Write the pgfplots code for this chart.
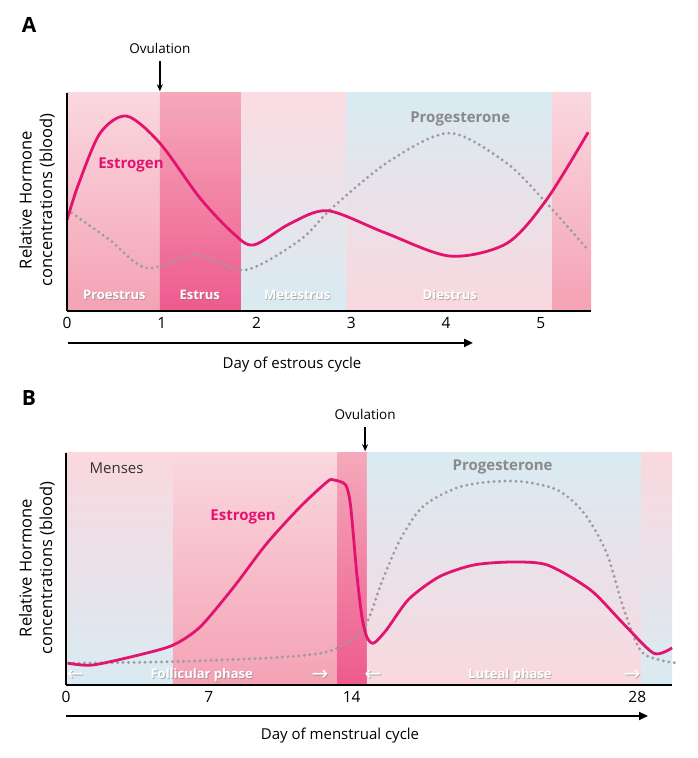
\documentclass[border=0pt]{standalone}
\usepackage{fontspec}
\setmainfont{Open Sans}
\newfontfamily\dejavu{DejaVu Sans}
\usepackage{pgfplots}
\pgfplotsset{compat=1.18}
\usetikzlibrary{arrows.meta}
\definecolor{estro}{HTML}{E2146F}
\definecolor{prog}{HTML}{9C9C9C}
\definecolor{progtxt}{HTML}{8A8A8A}
\definecolor{pinkL}{HTML}{FAD8DF}
\definecolor{pinkM}{HTML}{F4A2B4}
\definecolor{pinkE}{HTML}{F5A9BB}
\definecolor{pinkD}{HTML}{EE5A8E}
\definecolor{blueL}{HTML}{D9EBF2}
\newcommand{\fs}[1]{\fontsize{#1}{#1}\selectfont}
\newcommand{\shadowtext}[3]{%
  \node[text=black!55, opacity=0.5, font=\fs{13}\bfseries] at ([xshift=0.8pt,yshift=-0.8pt]#1) {#2};
  \node[text=white, font=\fs{13}\bfseries] at (#1) {#2};}
\newcommand{\shadowarrow}[2]{%
  \node[text=black!55, opacity=0.5, font=\dejavu\fs{20}] at ([xshift=0.8pt,yshift=-0.8pt]#1) {#2};
  \node[text=white, font=\dejavu\fs{20}] at (#1) {#2};}
\pgfplotsset{
  panel/.style={
    scale only axis, anchor=south west,
    ymin=0, ymax=100, ytick=\empty,
    axis x line*=bottom, axis y line*=left,
    axis line style={line width=2.6pt, black, -},
    major tick length=0pt,
    axis on top, clip=false,
    /pgf/number format/assume math mode=true,
    xticklabel style={font=\fs{15.5}, yshift=-3pt},
  },
  est/.style={estro, line width=2.8pt, smooth, no markers},
  pro/.style={prog, line width=3.2pt, smooth, no markers, line cap=round, dash pattern=on 0pt off 5.5pt},
}
\begin{document}
\begin{tikzpicture}
\useasboundingbox (0,0) rectangle (697pt,758pt);
% ---------- Panel A ----------
\node[font=\fs{21}\bfseries] at (29pt,733pt) {A};
\node[font=\fs{16.5}, align=center, rotate=90] at (37pt,558pt) {Relative Hormone\\[4pt]concentrations (blood)};
\begin{axis}[panel, at={(67pt,447pt)}, width=524pt, height=218pt,
  xmin=0, xmax=5.53, xtick={0,1,2,3,4,5}]
  \path[top color=pinkL, bottom color=pinkM] (axis cs:0,0) rectangle (axis cs:0.98,100);
  \path[top color=pinkE, bottom color=pinkD] (axis cs:0.98,0) rectangle (axis cs:1.84,100);
  \path[top color=pinkL!90!white, bottom color=blueL] (axis cs:1.84,0) rectangle (axis cs:2.95,100);
  \path[top color=blueL, bottom color=pinkL] (axis cs:2.95,0) rectangle (axis cs:5.12,100);
  \path[top color=pinkL, bottom color=pinkM] (axis cs:5.12,0) rectangle (axis cs:5.53,100);
  \addplot[pro] coordinates {(0.05,45) (0.45,32.6) (0.84,19.7) (1.37,25.7) (1.88,18.8) (2.46,32.6) (2.81,47.8) (3.41,69) (4.04,81.6) (4.64,67.8) (5.06,49.5) (5.5,28)};
  \addplot[est] coordinates {(0,41.7) (0.12,58) (0.35,81.6) (0.63,89.4) (0.98,77) (1.40,52) (1.75,35.8) (1.97,30.3) (2.35,40) (2.75,46) (3.35,36) (4.04,25.2) (4.64,31) (5.06,51) (5.5,82)};
  \shadowtext{axis cs:0.50,7.3}{Proestrus}{}
  \shadowtext{axis cs:1.40,7.3}{Estrus}{}
  \shadowtext{axis cs:2.43,7.3}{Metestrus}{}
  \shadowtext{axis cs:4.04,7.3}{Diestrus}{}
  \node[text=estro, font=\fs{15}\bfseries] at (axis cs:0.675,67) {Estrogen};
  \node[text=progtxt, font=\fs{15}\bfseries] at (axis cs:4.15,88) {Progesterone};
  \node[font=\fs{13.5}] at (axis cs:0.98,120.6) {Ovulation};
  \draw[line width=1.3pt, -{Stealth[length=7pt,width=6pt]}] (axis cs:0.98,114.5) -- (axis cs:0.98,100.8);
\end{axis}
\draw[line width=2.4pt, -{Triangle[length=9pt,width=8pt]}] (68pt,415pt) -- (473pt,415pt);
\node[font=\fs{15}] at (292pt,393pt) {Day of estrous cycle};
% ---------- Panel B ----------
\node[font=\fs{21}\bfseries] at (29pt,360pt) {B};
\node[font=\fs{16.5}, align=center, rotate=90] at (37pt,190pt) {Relative Hormone\\[4pt]concentrations (blood)};
\begin{axis}[panel, at={(66pt,73pt)}, width=606pt, height=232pt,
  xmin=0, xmax=29.7, xtick={0,7,14,28}]
  \path[top color=pinkL, bottom color=blueL] (axis cs:0,0) rectangle (axis cs:5.25,100);
  \path[top color=pinkL, middle color=pinkM!85!pinkL, bottom color=pinkM] (axis cs:5.25,0) rectangle (axis cs:13.3,100);
  \path[top color=pinkE, bottom color=pinkD] (axis cs:13.3,0) rectangle (axis cs:14.75,100);
  \path[top color=blueL, bottom color=pinkL] (axis cs:14.75,0) rectangle (axis cs:28.2,100);
  \path[top color=pinkL, bottom color=blueL] (axis cs:28.2,0) rectangle (axis cs:29.7,100);
  \addplot[pro] coordinates {(0.1,9.4) (4.93,10) (9.84,11.6) (12.45,13.6) (13.4,16.5) (14.4,22) (14.9,30) (15.5,45) (16.4,63) (17.5,77) (19.16,85) (20.8,87.6) (22.4,87.6) (24.1,84) (25.4,74) (26.5,56.8) (27.3,33.7) (28.15,15) (29.1,10.8) (30,9.4)};
  \addplot[est, tension=0.45] coordinates {(0.1,9.4) (1.3,8.6) (3.6,13) (5.25,17.2) (6.57,25) (8.2,42) (9.84,61) (11.5,77) (12.8,87.6) (13.1,88.4) (13.7,86.3) (13.95,77) (14.25,48) (14.5,29.5) (14.74,20.8) (15.07,18) (15.7,23.7) (16.8,37) (18.3,46.7) (19.97,51.7) (21.8,53) (23.6,51.7) (25.7,41) (27.3,26.6) (28.8,13.7) (29.7,16)};
  \node[text=black!80, font=\fs{15}] at (axis cs:2.48,93.5) {Menses};
  \node[text=estro, font=\fs{15}\bfseries] at (axis cs:8.68,72.4) {Estrogen};
  \node[text=progtxt, font=\fs{15}\bfseries] at (axis cs:21.4,94) {Progesterone};
  \shadowtext{axis cs:6.65,4.3}{Follicular phase}{}
  \shadowtext{axis cs:21.76,4.3}{Luteal phase}{}
  \shadowarrow{axis cs:0.45,4.3}{←}
  \shadowarrow{axis cs:12.45,4.3}{→}
  \shadowarrow{axis cs:15.05,4.3}{←}
  \shadowarrow{axis cs:27.75,4.3}{→}
  \node[font=\fs{13.5}] at (axis cs:14.66,116.8) {Ovulation};
  \draw[line width=1.3pt, -{Stealth[length=7pt,width=6pt]}] (axis cs:14.66,111.2) -- (axis cs:14.66,100.8);
\end{axis}
\draw[line width=2.4pt, -{Triangle[length=9pt,width=8pt]}] (66pt,42pt) -- (648pt,42pt);
\node[font=\fs{15}] at (340pt,22pt) {Day of menstrual cycle};
\end{tikzpicture}
\end{document}
